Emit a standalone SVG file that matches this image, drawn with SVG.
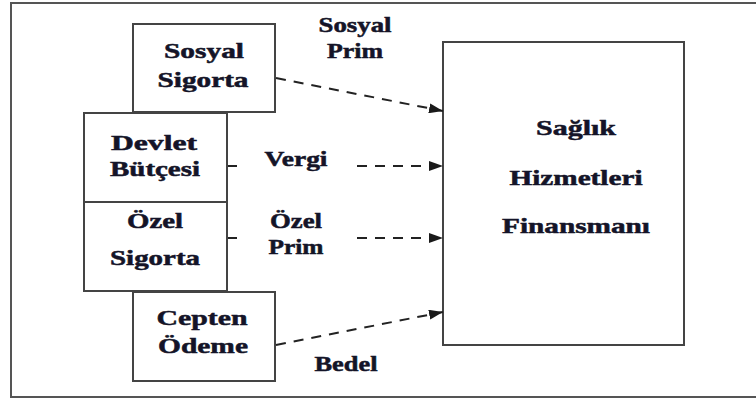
<svg xmlns="http://www.w3.org/2000/svg" width="756" height="401" viewBox="0 0 756 401">
<defs>
<marker id="ah" markerWidth="14" markerHeight="10" refX="14" refY="5" orient="auto" markerUnits="userSpaceOnUse">
<path d="M0,0 L14,5 L0,10 Z" fill="#1a1a1a"/>
</marker>
<style>
.box{fill:#fff;stroke:#444;stroke-width:2}
.t{font-family:"Liberation Serif","Times New Roman",Times,serif;font-weight:bold;font-size:21px;fill:#141428;stroke:#141428;stroke-width:0.5;text-anchor:middle}
.c{fill:none;stroke:#222;stroke-width:2;stroke-dasharray:10 8}
</style>
</defs>
<rect width="756" height="401" fill="#fff"/>
<rect x="11" y="3" width="760" height="394" fill="none" stroke="#555" stroke-width="2"/>

<g id="sosyal-sigorta">
<rect class="box" x="133" y="24" width="142" height="88"/>
<text class="t" x="204" y="58" textLength="80" lengthAdjust="spacingAndGlyphs">Sosyal</text>
<text class="t" x="203" y="87" textLength="91" lengthAdjust="spacingAndGlyphs">Sigorta</text>
</g>
<g id="devlet-butcesi">
<rect class="box" x="84" y="113" width="143" height="89"/>
<text class="t" x="154" y="150" textLength="86" lengthAdjust="spacingAndGlyphs">Devlet</text>
<text class="t" x="155" y="176" textLength="90" lengthAdjust="spacingAndGlyphs">Bütçesi</text>
</g>
<g id="ozel-sigorta">
<rect class="box" x="84" y="202" width="143" height="89"/>
<text class="t" x="155" y="228" textLength="56" lengthAdjust="spacingAndGlyphs">Özel</text>
<text class="t" x="155" y="265" textLength="90" lengthAdjust="spacingAndGlyphs">Sigorta</text>
</g>
<g id="cepten-odeme">
<rect class="box" x="133" y="292" width="142" height="89"/>
<text class="t" x="202" y="325" textLength="91" lengthAdjust="spacingAndGlyphs">Cepten</text>
<text class="t" x="203" y="353" textLength="90" lengthAdjust="spacingAndGlyphs">Ödeme</text>
</g>
<g id="saglik-hizmetleri-finansmani">
<rect class="box" x="443" y="42" width="241" height="303"/>
<text class="t" x="576" y="135" textLength="80" lengthAdjust="spacingAndGlyphs">Sağlık</text>
<text class="t" x="576" y="185" textLength="133" lengthAdjust="spacingAndGlyphs">Hizmetleri</text>
<text class="t" x="576" y="233" textLength="148" lengthAdjust="spacingAndGlyphs">Finansmanı</text>
</g>

<g id="connectors">
<path class="c" d="M276,78 L443,111" marker-end="url(#ah)"/>
<path class="c" d="M228,166 L237,166 M357,166 L443,166" marker-end="url(#ah)"/>
<path class="c" d="M228,238 L237,238 M357,238 L443,238" marker-end="url(#ah)"/>
<path class="c" d="M276,345 L443,312" marker-end="url(#ah)"/>
<text class="t" x="355" y="32" textLength="73" lengthAdjust="spacingAndGlyphs">Sosyal</text>
<text class="t" x="355" y="58" textLength="56" lengthAdjust="spacingAndGlyphs">Prim</text>
<text class="t" x="296" y="166" textLength="63" lengthAdjust="spacingAndGlyphs">Vergi</text>
<text class="t" x="296" y="228" textLength="52" lengthAdjust="spacingAndGlyphs">Özel</text>
<text class="t" x="296" y="254" textLength="55" lengthAdjust="spacingAndGlyphs">Prim</text>
<text class="t" x="346" y="371" textLength="63" lengthAdjust="spacingAndGlyphs">Bedel</text>
</g>
</svg>
